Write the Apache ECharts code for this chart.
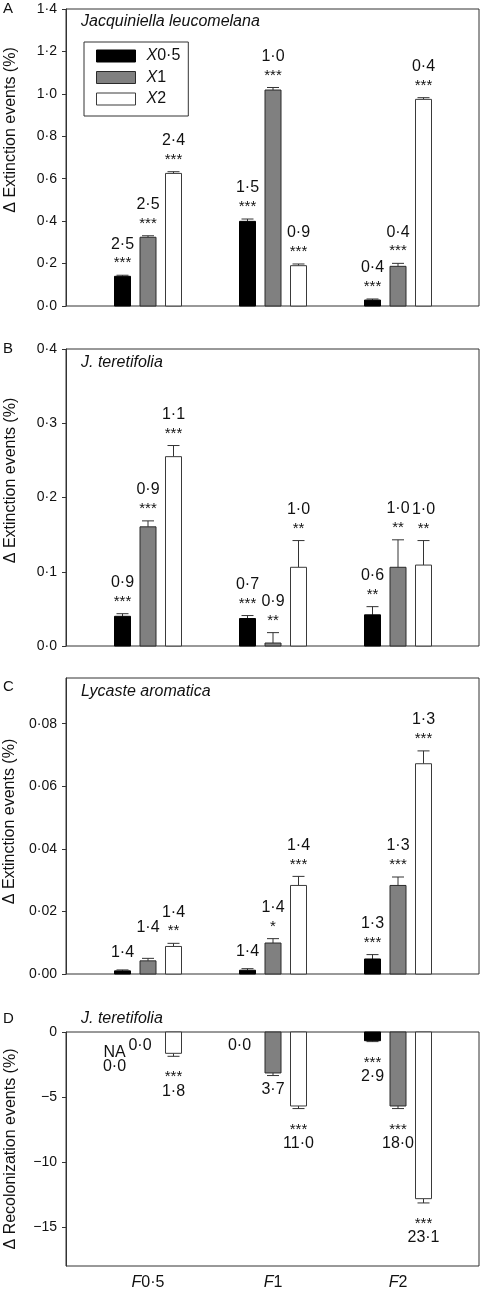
<!DOCTYPE html>
<html>
<head>
<meta charset="utf-8">
<script src="https://cdn.jsdelivr.net/npm/echarts@6/dist/echarts.min.js"></script>
<style>html,body{margin:0;padding:0;background:#fff}#c{width:480px;height:1294px}</style>
</head>
<body>
<div id="c"></div>
<script>
// ---------- DATA ----------
const categories = ['F0·5', 'F1', 'F2'];
const seriesNames = ['X0·5', 'X1', 'X2'];

// Panel A: Jacquiniella leucomelana (extinction)
const aX05 = [0.140, 0.399, 0.028];
const aX05Err = [0.005, 0.011, 0.005];
const aX1 = [0.324, 1.018, 0.187];
const aX1Err = [0.007, 0.012, 0.014];
const aX2 = [0.625, 0.190, 0.974];
const aX2Err = [0.008, 0.008, 0.008];
const aNumX05 = ['2·5', '1·5', '0·4'];
const aNumX1 = ['2·5', '1·0', '0·4'];
const aNumX2 = ['2·4', '0·9', '0·4'];
const aStarX05 = ['***', '***', '***'];
const aStarX1 = ['***', '***', '***'];
const aStarX2 = ['***', '***', '***'];
const aTicks = [0, 0.2, 0.4, 0.6, 0.8, 1.0, 1.2, 1.4];

// Panel B: J. teretifolia (extinction)
const bX05 = [0.040, 0.037, 0.042];
const bX05Err = [0.0035, 0.004, 0.011];
const bX1 = [0.1605, 0.004, 0.106];
const bX1Err = [0.008, 0.014, 0.037];
const bX2 = [0.255, 0.106, 0.109];
const bX2Err = [0.015, 0.036, 0.033];
const bNumX05 = ['0·9', '0·7', '0·6'];
const bNumX1 = ['0·9', '0·9', '1·0'];
const bNumX2 = ['1·1', '1·0', '1·0'];
const bStarX05 = ['***', '***', '**'];
const bStarX1 = ['***', '**', '**'];
const bStarX2 = ['***', '**', '**'];
const bTicks = [0, 0.1, 0.2, 0.3, 0.4];

// Panel C: Lycaste aromatica (extinction)
const cX05 = [0.0010, 0.0012, 0.0048];
const cX05Err = [0.0003, 0.0005, 0.0014];
const cX1 = [0.0042, 0.0099, 0.0283];
const cX1Err = [0.0008, 0.0014, 0.0027];
const cX2 = [0.0088, 0.0283, 0.0672];
const cX2Err = [0.0010, 0.0029, 0.0041];
const cNumX05 = ['1·4', '1·4', '1·3'];
const cNumX1 = ['1·4', '1·4', '1·3'];
const cNumX2 = ['1·4', '1·4', '1·3'];
const cStarX05 = ['', '', '***'];
const cStarX1 = [' ', '*', '***'];
const cStarX2 = ['**', '***', '***'];
const cTicks = [0, 0.02, 0.04, 0.06, 0.08];

// Panel D: J. teretifolia (recolonization)
const dX05 = [0, 0, -0.67];
const dX05Err = [0, 0, 0.07];
const dX1 = [0, -3.15, -5.69];
const dX1Err = [0, 0.2, 0.2];
const dX2 = [-1.64, -5.69, -12.82];
const dX2Err = [0.23, 0.2, 0.33];
const dNumX05 = ['0·0', '0·0', '2·9'];
const dNumX1 = ['0·0', '3·7', '18·0'];
const dNumX2 = ['1·8', '11·0', '23·1'];
const dStarX05 = ['NA', '', '***'];
const dStarX1 = ['', '', '***'];
const dStarX2 = ['***', '***', '***'];
const dTicks = [0, -5, -10, -15];

// ---------- STYLE / LAYOUT ----------
const FONT = '"Liberation Sans", Arial, Helvetica, sans-serif';
const fills = ['#000000', '#808080', '#ffffff'];
const strokes = ['#000000', '#2a2a2a', '#3a3a3a'];
const offsets = [-0.204, 0, 0.204];
const BAR_W = 0.128;
const CAP = 12;

const panels = [
  {vals: [aX05, aX1, aX2], errs: [aX05Err, aX1Err, aX2Err], nums: [aNumX05, aNumX1, aNumX2], stars: [aStarX05, aStarX1, aStarX2],
   ticks: aTicks, min: 0, max: 1.4, dec: 1, top: 9, height: 297, name: 'Δ Extinction events (%)', namePad: 55, neg: false},
  {vals: [bX05, bX1, bX2], errs: [bX05Err, bX1Err, bX2Err], nums: [bNumX05, bNumX1, bNumX2], stars: [bStarX05, bStarX1, bStarX2],
   ticks: bTicks, min: 0, max: 0.4, dec: 1, top: 349, height: 297, name: 'Δ Extinction events (%)', namePad: 34, neg: false},
  {vals: [cX05, cX1, cX2], errs: [cX05Err, cX1Err, cX2Err], nums: [cNumX05, cNumX1, cNumX2], stars: [cStarX05, cStarX1, cStarX2],
   ticks: cTicks, min: 0, max: 0.0946, dec: 2, top: 678, height: 296, name: 'Δ Extinction events (%)', namePad: 9, neg: false},
  {vals: [dX05, dX1, dX2], errs: [dX05Err, dX1Err, dX2Err], nums: [dNumX05, dNumX1, dNumX2], stars: [dStarX05, dStarX1, dStarX2],
   ticks: dTicks, min: -18, max: 0, dec: 0, top: 1032, height: 234, name: 'Δ Recolonization events (%)', namePad: 0, neg: true}
];

const grids = [], xAxes = [], yAxes = [], series = [];
panels.forEach((p, pi) => {
  grids.push({left: 66, width: 413, top: p.top, height: p.height, show: true, borderColor: '#333', borderWidth: 1,
    backgroundColor: 'transparent', containLabel: false, outerBoundsMode: 'none'});
  const isLast = pi === 3;
  xAxes.push({
    gridIndex: pi, type: 'value', min: -0.656, max: 2.648,
    show: isLast,
    axisLine: {show: false, onZero: false}, axisTick: {show: false}, splitLine: {show: false},
    axisLabel: {
      show: isLast, customValues: [0, 1, 2], margin: 9,
      formatter: v => '{i|' + categories[Math.round(v)].charAt(0) + '}' + categories[Math.round(v)].slice(1),
      fontSize: 16, fontFamily: FONT, color: '#111',
      rich: {i: {fontStyle: 'italic', fontSize: 16, fontFamily: FONT, color: '#111'}}
    }
  });
  yAxes.push({
    gridIndex: pi, type: 'value', min: p.min, max: p.max,
    axisLine: {show: true, onZero: false, lineStyle: {color: '#333', width: 1}},
    axisTick: {show: true, length: 4, customValues: p.ticks, lineStyle: {color: '#333'}},
    splitLine: {show: false},
    axisLabel: {
      customValues: p.ticks, margin: 9, fontSize: 14, fontFamily: FONT, color: '#111',
      formatter: v => p.neg ? (v === 0 ? '0' : '\u2212' + Math.abs(v)) : v.toFixed(p.dec).replace('.', '·')
    },
    name: p.name, nameLocation: 'middle', nameGap: 47,
    nameTextStyle: {fontSize: 16, fontFamily: FONT, color: '#111', padding: [0, 0, 0, p.namePad]}
  });
  for (let k = 0; k < 3; k++) {
    const vals = p.vals[k], errs = p.errs[k], nums = p.nums[k], stars = p.stars[k];
    series.push({
      type: 'custom', name: seriesNames[k], xAxisIndex: pi, yAxisIndex: pi,
      coordinateSystem: 'cartesian2d', clip: false,
      itemStyle: {color: fills[k]},
      encode: {x: 0, y: 1},
      data: vals.map((v, i) => [i, v, errs[i]]),
      renderItem: (params, api) => {
        const i = params.dataIndex;
        const v = api.value(1), e = api.value(2);
        const x = api.value(0) + offsets[k];
        const base = api.coord([x, 0]);
        const tp = api.coord([x, v]);
        const w = api.size([BAR_W, 0])[0];
        const children = [];
        if (v !== 0) {
          children.push({type: 'rect', shape: {x: base[0] - w / 2, y: Math.min(base[1], tp[1]), width: w, height: Math.abs(tp[1] - base[1])},
            style: {fill: fills[k], stroke: strokes[k], lineWidth: 1}});
        }
        let anchor = tp[1];
        if (e > 0) {
          const pe = api.coord([x, v + (p.neg ? -e : e)]);
          children.push({type: 'line', shape: {x1: tp[0], y1: tp[1], x2: pe[0], y2: pe[1]}, style: {stroke: '#333', lineWidth: 1}, z2: -1});
          children.push({type: 'line', shape: {x1: pe[0] - CAP / 2, y1: pe[1], x2: pe[0] + CAP / 2, y2: pe[1]}, style: {stroke: '#333', lineWidth: 1}});
          anchor = pe[1];
        }
        const cx = tp[0] + (v === 0 ? -8 : 0);
        const st = stars[i], nm = nums[i];
        const dir = p.neg ? 1 : -1;
        if (st) {
          children.push({type: 'text', style: {text: st, x: cx, y: anchor + dir * (p.neg ? 21 : 12), align: 'center', verticalAlign: 'middle',
            fontSize: st === 'NA' ? 16 : 15, fontFamily: FONT, fill: '#111'}});
        }
        if (nm) {
          const off = st ? (p.neg ? 35 : 31) : (p.neg ? 14 : 17);
          children.push({type: 'text', style: {text: nm, x: cx, y: anchor + dir * off, align: 'center', verticalAlign: 'middle',
            fontSize: 16, fontFamily: FONT, fill: '#111'}});
        }
        return {type: 'group', children: children};
      }
    });
  }
});

const titleStyle = {fontSize: 15, fontWeight: 'normal', fontFamily: FONT, color: '#111'};
const spStyle = {fontSize: 16, fontWeight: 'normal', fontStyle: 'italic', fontFamily: FONT, color: '#111'};
const option = {
  animation: false,
  backgroundColor: '#fff',
  title: [
    {text: 'A', left: 3, top: 1, padding: 0, textStyle: titleStyle},
    {text: 'B', left: 3, top: 341, padding: 0, textStyle: titleStyle},
    {text: 'C', left: 3, top: 679, padding: 0, textStyle: titleStyle},
    {text: 'D', left: 3, top: 1011, padding: 0, textStyle: titleStyle},
    {text: 'Jacquiniella leucomelana', left: 81, top: 14, padding: 0, textStyle: spStyle},
    {text: 'J. teretifolia', left: 81, top: 355, padding: 0, textStyle: spStyle},
    {text: 'Lycaste aromatica', left: 81, top: 684, padding: 0, textStyle: spStyle},
    {text: 'J. teretifolia', left: 81, top: 1011, padding: 0, textStyle: spStyle}
  ],
  legend: {
    orient: 'vertical', left: 84, top: 42,
    padding: [6, 8, 9, 12], itemGap: 5.5, itemWidth: 39, itemHeight: 12,
    borderColor: '#333', borderWidth: 1, selectedMode: false,
    data: seriesNames.map((n, k) => ({name: n, icon: 'rect', itemStyle: {color: fills[k], borderColor: strokes[k], borderWidth: 1}})),
    formatter: n => '{i|X}' + n.slice(1),
    textStyle: {fontSize: 16, lineHeight: 16, fontFamily: FONT, color: '#111', padding: [0, 0, 0, 6],
      rich: {i: {fontStyle: 'italic', fontSize: 16, fontFamily: FONT, color: '#111'}}}
  },
  grid: grids, xAxis: xAxes, yAxis: yAxes, series: series
};
const chart = echarts.init(document.getElementById('c'), null, {renderer: 'canvas'});
chart.setOption(option);
</script>
</body>
</html>
